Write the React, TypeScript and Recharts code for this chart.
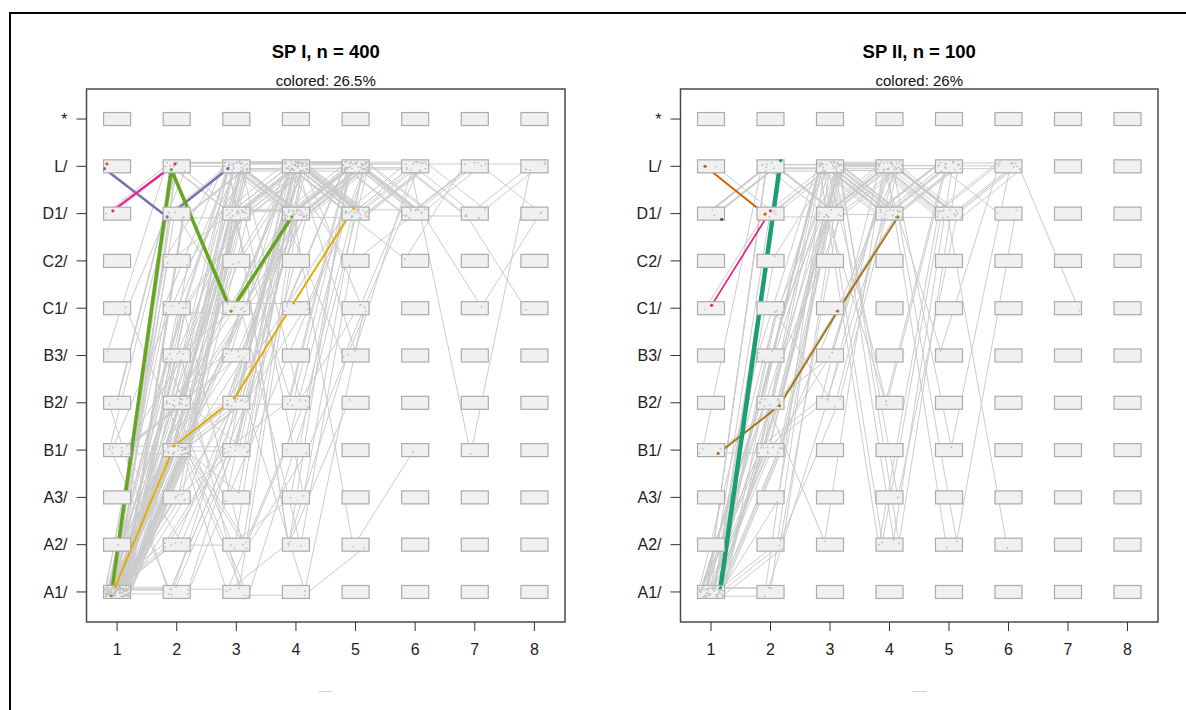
import React from 'react';
import { ComposedChart, Line, Scatter, XAxis, YAxis, ReferenceArea } from 'recharts';

// ---------- data ----------
const STATE_LABELS = ['A1/', 'A2/', 'A3/', 'B1/', 'B2/', 'B3/', 'C1/', 'C2/', 'D1/', 'L/', '*'];
const STATE_TICKS = [1, 2, 3, 4, 5, 6, 7, 8, 9, 10, 11];
const TIME_TICKS = [1, 2, 3, 4, 5, 6, 7, 8];

const titles = ['SP I, n = 400', 'SP II, n = 100'];
const subtitles = ['colored: 26.5%', 'colored: 26%'];

// state index per time step (A1=1 ... L/=10, *=11)
const spI_paths: number[][] = [
  [1, 4, 5, 7, 9, 10], [1, 4, 7, 10], [1, 5, 9, 10, 9], [1, 4, 6, 10, 10, 9], [1, 1, 4, 9, 10],
  [1, 7, 10, 10], [1, 9, 10], [1, 10, 10, 9], [1, 4, 5, 10, 9, 10], [1, 5, 7, 9, 10],
  [1, 6, 10, 9], [1, 4, 4, 7, 10], [1, 8, 10, 10, 10], [1, 4, 9, 10, 9, 10, 9], [1, 2, 5, 10],
  [1, 3, 6, 9, 10], [1, 1, 1, 2, 5], [1, 4, 2, 4, 7], [1, 5, 1, 4, 9], [1, 4, 3, 10],
  [4, 5, 10, 9, 10], [4, 7, 10, 10, 9], [4, 4, 9, 10], [4, 9, 10, 2, 6], [5, 10, 10, 9, 10, 9],
  [7, 10, 9, 10], [9, 10, 10], [1, 5, 10, 10, 9, 9, 10], [1, 4, 10, 9, 2, 4], [1, 6, 9, 10, 10, 9, 7, 9],
  [1, 4, 5, 9, 10, 10, 9, 10], [1, 7, 9, 9, 10, 9], [1, 2, 2, 3, 10], [1, 3, 9, 10, 9], [1, 4, 1, 5, 10],
  [1, 5, 6, 10, 9, 8, 10], [1, 4, 7, 2, 9], [1, 1, 4, 10, 6, 10], [1, 9, 10, 9, 10], [1, 10, 9, 10, 9],
  [1, 4, 10, 10, 10, 10, 10, 10], [1, 5, 9, 5, 10], [1, 6, 1, 9], [1, 4, 6, 9, 6, 9], [1, 4, 5, 1, 7],
  [1, 5, 2, 10], [1, 3, 10, 10], [1, 8, 9, 10, 10, 9], [2, 4, 9, 10], [4, 5, 7, 10, 10, 10, 9, 10],
  [4, 1, 5, 10], [1, 4, 9, 3, 10], [1, 7, 7, 9, 10], [1, 4, 10, 5, 7], [1, 5, 10, 2, 10],
  [1, 1, 5, 10, 9], [1, 4, 8, 10, 9], [1, 7, 10, 10, 9, 10], [1, 6, 10, 10, 10, 9, 9], [1, 4, 7, 9, 10, 9, 10, 9],
  [1, 10, 10, 10, 10, 9, 10], [1, 9, 9, 10, 8, 9], [7, 4, 10], [1, 4, 5, 5, 10, 10, 9, 7], [1, 5, 9, 10, 7, 10],
  [1, 2, 4, 7, 10], [1, 4, 2, 5, 10], [1, 3, 4, 9], [1, 5, 4, 10], [1, 4, 10, 9, 9, 10, 4, 10],
  [1, 4, 5, 10, 10], [1, 5, 5, 9, 10], [1, 4, 6, 9, 10, 9], [1, 6, 7, 10], [1, 7, 9, 10, 9],
  [1, 5, 10, 9, 10, 10], [1, 4, 10, 10, 9], [4, 4, 10, 9], [4, 6, 10, 10, 10], [1, 2, 4, 9, 10],
  [1, 4, 4, 10, 9, 10], [1, 5, 7, 10, 9], [1, 6, 9, 9, 10], [1, 8, 10, 9, 10], [1, 4, 7, 7, 10],
  [1, 5, 6, 9, 10], [1, 1, 4, 5, 10], [1, 4, 1, 1, 2], [1, 3, 5, 10, 9], [1, 4, 5, 7, 10, 9],
  [5, 1, 4, 10], [4, 2, 5, 9], [1, 6, 3, 9, 10], [1, 7, 2, 10], [1, 4, 9, 9, 10, 9],
  [1, 5, 10, 10, 9, 10], [1, 9, 7, 10], [1, 4, 6, 10, 9, 10], [6, 10, 9, 10], [1, 5, 8, 10],
];
const spI_offsets: [number, number][] = [
  [-0.15, 0.05], [0.12, -0.08], [0.05, 0.02], [-0.08, 0.1], [0.18, -0.04], [-0.2, 0.07], [0.1, -0.1], [-0.05, 0.0], [0.02, 0.08], [0.15, -0.06],
  [-0.12, 0.03], [0.2, -0.02], [-0.18, 0.09], [0.07, -0.09], [-0.02, 0.04], [0.13, -0.05], [-0.1, 0.06], [0.17, -0.07], [-0.16, 0.01], [0.04, 0.1],
  [0.09, -0.03], [-0.07, 0.05], [0.19, -0.08], [-0.13, 0.02], [0.01, 0.07], [0.14, -0.1], [-0.19, 0.0], [0.06, 0.08], [-0.04, -0.04], [0.11, 0.03],
  [-0.14, -0.06], [0.16, 0.09], [-0.09, -0.01], [0.03, 0.06], [0.2, -0.09], [-0.17, 0.04], [0.08, -0.02], [-0.01, 0.1], [0.12, -0.07], [-0.11, 0.01],
  [0.18, 0.05], [-0.06, -0.05], [0.05, 0.08], [-0.2, -0.03], [0.15, 0.02], [-0.03, -0.08], [0.1, 0.07], [-0.15, -0.04], [0.02, 0.0], [0.17, 0.09],
  [-0.08, -0.06], [0.13, 0.03], [-0.18, -0.1], [0.07, 0.06], [-0.12, -0.02], [0.19, 0.04], [-0.05, -0.07], [0.04, 0.1], [-0.16, -0.05], [0.11, 0.01],
  [0.0, 0.08], [-0.1, -0.09], [0.14, 0.02], [-0.14, -0.03], [0.09, 0.07], [-0.19, -0.06], [0.16, 0.05], [-0.02, -0.01], [0.06, 0.09], [-0.07, -0.08],
  [0.1, 0.06], [-0.17, -0.03], [0.03, 0.09], [-0.09, -0.08], [0.16, 0.01], [-0.04, 0.05], [0.19, -0.06], [-0.12, 0.08], [0.07, -0.1], [-0.2, 0.03],
  [0.13, 0.07], [-0.06, -0.05], [0.01, 0.04], [0.18, -0.09], [-0.15, 0.1], [0.05, -0.02], [-0.1, 0.06], [0.14, -0.07], [-0.01, 0.02], [0.2, 0.09],
  [-0.13, -0.04], [0.08, 0.05], [-0.18, -0.08], [0.11, 0.0], [-0.07, 0.07], [0.17, -0.05], [-0.03, 0.03], [0.09, -0.1], [-0.16, 0.08], [0.04, -0.03],
];
const spI_weights: number[] = [
  1, 1, 1.6, 1, 1, 1, 1.6, 1, 1, 1, 1, 1, 1, 1, 1, 1, 1, 1, 1, 1,
  1.6, 1, 1, 1, 1.6, 1, 1, 1, 1, 1, 1, 1, 1, 1, 1, 1, 1, 1, 1, 1,
  1, 1, 1, 1, 1, 1, 1, 1, 1, 1, 1, 1, 1, 1, 1, 1, 1, 1, 1, 1,
  1.6, 1, 1, 1, 1, 1, 1, 1, 1, 1,
  1, 1, 1, 1, 1, 1, 1, 1, 1, 1, 1, 1, 1, 1, 1, 1, 1, 1, 1, 1,
  1, 1, 1, 1, 1, 1, 1, 1, 1, 1,
];
// highlighted (coloured) trajectories, [time, state]
const spI_highlight: number[][][] = [
  [[0.83, 10.05]],
  [[0.79, 9.95], [1.84, 8.93], [2.86, 9.95]],
  [[0.93, 9.06], [1.97, 10.05]],
  [[0.97, 1.11], [1.96, 4.09], [2.97, 5.1], [3.96, 7.11], [4.97, 9.11]],
  [[0.9, 0.92], [1.91, 9.93], [2.91, 6.94], [3.93, 8.93]],
];

const spII_paths: number[][] = [
  [1, 4, 7, 10], [1, 5, 10, 9, 10], [1, 9, 10, 10], [1, 10, 10, 9], [1, 4, 10, 9, 10],
  [1, 6, 10, 10, 9, 10], [1, 5, 7, 9, 10], [1, 1, 5, 10], [1, 2, 9, 10], [1, 4, 10, 2, 9],
  [1, 7, 10, 9, 9, 10], [1, 5, 10, 10, 10, 10], [1, 8, 10, 2, 10], [1, 4, 9, 5, 10], [1, 5, 10, 9, 2, 9],
  [1, 1, 10, 10, 9], [4, 5, 10, 2, 10], [4, 4, 9, 10, 9], [9, 10, 9, 10, 9], [10, 9, 10, 10, 9, 10],
  [1, 4, 5, 10, 6, 10], [1, 6, 9, 10, 10, 10, 7], [1, 10, 10, 5, 10], [1, 3, 10, 9], [1, 5, 9, 10, 10, 9],
  [1, 4, 6, 10, 4, 10], [7, 9, 10], [1, 2, 5, 10], [1, 9, 9, 10, 9, 2], [1, 5, 10, 3, 9, 10],
  [1, 4, 10, 10, 9, 10], [1, 7, 5, 10], [1, 5, 2, 10, 9], [9, 10, 10, 9], [1, 4, 10, 10],
  [1, 6, 10, 9, 10], [1, 1, 10, 9], [1, 10, 9, 9, 10], [1, 5, 10, 10, 9, 10], [1, 4, 9, 10, 2],
  [1, 4, 10, 9, 10], [1, 5, 9, 10], [1, 6, 10, 10], [1, 5, 10, 2, 9], [1, 7, 10, 10, 9],
  [1, 4, 5, 9, 10], [1, 2, 10, 10], [4, 10, 10, 9], [1, 9, 10, 9, 10, 10], [1, 5, 6, 10],
];
const spII_offsets: [number, number][] = [
  [0.12, -0.05], [-0.15, 0.08], [0.05, 0.02], [-0.08, -0.1], [0.18, 0.04], [-0.2, 0.06], [0.1, -0.07], [-0.03, 0.09], [0.15, -0.02], [-0.12, 0.05],
  [0.2, -0.08], [-0.17, 0.01], [0.07, 0.1], [-0.05, -0.04], [0.13, 0.07], [-0.1, -0.09], [0.16, 0.03], [-0.19, -0.06], [0.02, 0.08], [0.09, -0.01],
  [-0.14, 0.1], [0.19, -0.05], [-0.06, 0.04], [0.11, -0.1], [-0.18, 0.02], [0.04, 0.06], [-0.11, -0.03], [0.17, 0.09], [-0.02, -0.07], [0.14, 0.0],
  [-0.16, 0.05], [0.08, -0.08], [-0.09, 0.07], [0.06, -0.04], [0.2, 0.03], [-0.13, -0.1], [0.01, 0.08], [-0.07, -0.02], [0.12, 0.06], [-0.04, -0.06],
  [0.15, 0.04], [-0.1, -0.07], [0.03, 0.09], [-0.18, 0.0], [0.11, -0.05], [-0.05, 0.06], [0.19, -0.09], [-0.14, 0.03], [0.07, 0.07], [-0.01, -0.04],
];
const spII_weights: number[] = [
  1, 2, 1, 1, 1, 1, 1, 1, 1, 1, 1, 1, 1, 1, 1, 1, 1, 1, 2, 1,
  1, 1, 1, 1, 1, 1, 1, 1, 1, 1, 1, 1, 1, 2, 1, 1, 1, 1, 1, 1,
  1, 1, 1, 1, 1, 1, 1, 1, 1, 1,
];
const spII_highlight: number[][][] = [
  [[1.18, 8.88]],
  [[0.9, 10.0], [1.91, 8.99]],
  [[1.01, 7.06], [2.0, 9.06]],
  [[1.12, 3.93], [2.15, 4.94], [3.13, 6.94], [4.14, 8.93]],
  [[1.16, 1.09], [2.17, 10.12]],
];

// ---------- styles ----------
const FONT = '"Liberation Sans", Arial, Helvetica, sans-serif';
const X_DOMAIN: [number, number] = [0.487, 8.513];
const Y_DOMAIN: [number, number] = [0.365, 11.635];
const GREY = '#cbcbcb';
const spI_colors = ['#d95f02', '#7570b3', '#e7298a', '#e6ab02', '#66a61e'];
const spI_widths = [2, 2.5, 2.5, 2, 3.5];
const spII_colors = ['#555555', '#d95f02', '#e7298a', '#a6761d', '#1b9e77'];
const spII_widths = [1.5, 2, 1.8, 2, 4.5];

const cells = TIME_TICKS.flatMap((t) => STATE_TICKS.map((s) => ({ x: t, y: s })));

const CellShape = (p: any) => (
  <rect x={p.cx - 13.5} y={p.cy - 6.5} width={27} height={13} fill="#f0f0f0" stroke="#ababab" strokeWidth={1.2} />
);

type PanelProps = {
  left: number;
  width: number;
  plotLeft: number;
  plotRight: number;
  title: string;
  subtitle: string;
  paths: number[][];
  offsets: [number, number][];
  weights: number[];
  highlight: number[][][];
  colors: string[];
  widths: number[];
};

function Panel(props: PanelProps) {
  const { left, width, plotLeft, plotRight, title, subtitle, paths, offsets, weights, highlight, colors, widths } = props;
  const H = 710;
  const yAxisW = 60;
  const xAxisH = 40;
  const plotTop = 89;
  const plotBottom = 622;
  const center = (plotLeft + plotRight) / 2;
  return (
    <>
      <div style={{ position: 'absolute', left: center - 200, width: 400, top: 43, textAlign: 'center', fontFamily: FONT, fontWeight: 'bold', fontSize: 18.5, lineHeight: '18.5px', color: '#000' }}>{title}</div>
      <div style={{ position: 'absolute', left: center - 200, width: 400, top: 73, textAlign: 'center', fontFamily: FONT, fontSize: 15, lineHeight: '15px', color: '#111' }}>{subtitle}</div>
      <div style={{ position: 'absolute', left: center - 50, width: 100, top: 688, textAlign: 'center', fontFamily: FONT, fontSize: 6, lineHeight: '6px', color: '#777' }}>-------</div>
      <div style={{ position: 'absolute', left, top: 0 }}>
        <ComposedChart
          width={width}
          height={H}
          margin={{ top: plotTop, bottom: H - plotBottom - xAxisH, left: plotLeft - left - yAxisW, right: left + width - plotRight }}
        >
          <XAxis
            dataKey="x"
            type="number"
            domain={X_DOMAIN}
            allowDataOverflow
            ticks={TIME_TICKS}
            interval={0}
            height={xAxisH}
            axisLine={false}
            tickSize={9}
            tickMargin={13}
            tickLine={{ stroke: '#333' }}
            tick={{ fontSize: 16, fill: '#222', fontFamily: FONT }}
          />
          <YAxis
            dataKey="y"
            type="number"
            domain={Y_DOMAIN}
            allowDataOverflow
            ticks={STATE_TICKS}
            interval={0}
            width={yAxisW}
            axisLine={false}
            tickSize={10}
            tickMargin={9}
            tickLine={{ stroke: '#333' }}
            tickFormatter={(v: number) => STATE_LABELS[v - 1]}
            tick={{ fontSize: 16, fill: '#222', fontFamily: FONT }}
          />
          <Scatter data={cells} shape={CellShape} isAnimationActive={false} />
          {paths.map((p, i) => (
            <Line
              key={'g' + i}
              data={p.map((s, j) => ({ x: j + 1 + offsets[i][0], y: s + offsets[i][1] }))}
              dataKey="y"
              type="linear"
              stroke={GREY}
              strokeWidth={weights[i]}
              dot={{ r: 0.9, fill: '#bdbdbd', stroke: 'none' }}
              isAnimationActive={false}
            />
          ))}
          {highlight.map((h, i) => (
            <Line
              key={'h' + i}
              data={h.map((pt) => ({ x: pt[0], y: pt[1] }))}
              dataKey="y"
              type="linear"
              stroke={colors[i]}
              strokeWidth={widths[i]}
              dot={{ r: 1.6, fill: colors[i], stroke: 'none' }}
              isAnimationActive={false}
            />
          ))}
          <ReferenceArea
            x1={X_DOMAIN[0]}
            x2={X_DOMAIN[1]}
            y1={Y_DOMAIN[0]}
            y2={Y_DOMAIN[1]}
            fill="none"
            stroke="#4a4a4a"
            strokeWidth={1.5}
            ifOverflow="visible"
          />
        </ComposedChart>
      </div>
    </>
  );
}

export default function App() {
  return (
    <div style={{ position: 'fixed', left: 0, top: 0, width: 1186, height: 710, background: '#fff', overflow: 'hidden' }}>
      <div style={{ position: 'absolute', left: 9, top: 12, width: 1200, height: 720, borderTop: '2px solid #000', borderLeft: '2px solid #000' }} />
      <Panel
        left={0}
        width={600}
        plotLeft={86.5}
        plotRight={565}
        title={titles[0]}
        subtitle={subtitles[0]}
        paths={spI_paths}
        offsets={spI_offsets}
        weights={spI_weights}
        highlight={spI_highlight}
        colors={spI_colors}
        widths={spI_widths}
      />
      <Panel
        left={600}
        width={586}
        plotLeft={680.5}
        plotRight={1158}
        title={titles[1]}
        subtitle={subtitles[1]}
        paths={spII_paths}
        offsets={spII_offsets}
        weights={spII_weights}
        highlight={spII_highlight}
        colors={spII_colors}
        widths={spII_widths}
      />
    </div>
  );
}
